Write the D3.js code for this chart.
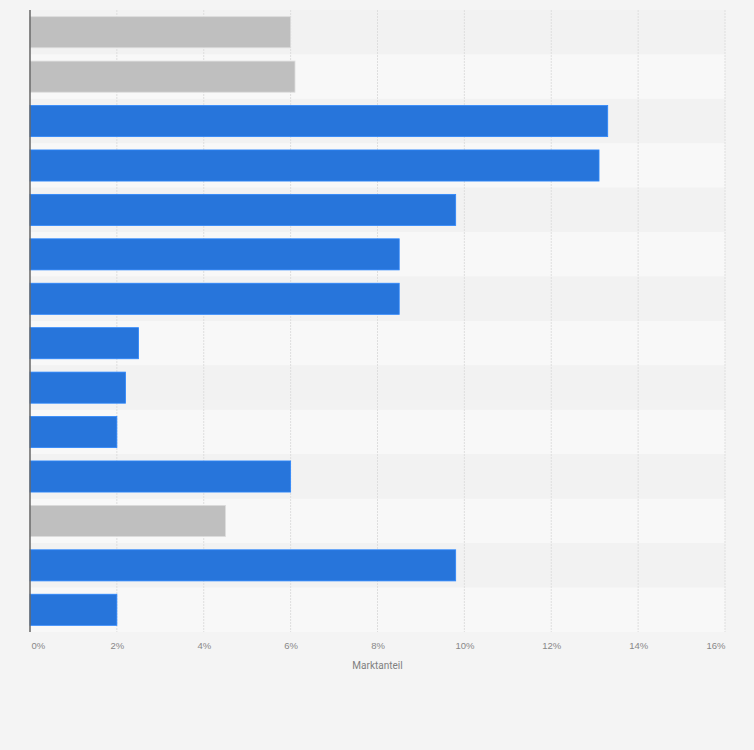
<!DOCTYPE html>
<html>
<head>
<meta charset="utf-8">
<script src="https://cdn.jsdelivr.net/npm/d3@7"></script>
<style>
  html, body { margin: 0; padding: 0; background: #f4f4f4; }
</style>
</head>
<body>
<div id="chart"></div>
<script>
// values (market share in %)
const categories = ["1", "2", "3", "4", "5", "6", "7", "8", "9", "10", "11", "12", "13", "14"];
const shares = [6.0, 6.1, 13.3, 13.1, 9.8, 8.5, 8.5, 2.5, 2.2, 2.0, 6.0, 4.5, 9.8, 2.0];
const groups = ["other", "other", "main", "main", "main", "main", "main", "main", "main", "main", "main", "other", "main", "main"];
const xTicks = [0, 2, 4, 6, 8, 10, 12, 14, 16];
const xLabel = "Marktanteil";

const data = categories.map((c, i) => ({ id: c, value: shares[i], group: groups[i] }));

// chart dimensions
const width = 754;
const height = 750;
const marginTop = 10;
const marginRight = 29;
const marginBottom = 118;
const marginLeft = 30;

const x = d3.scaleLinear([0, 16], [marginLeft, width - marginRight]);
const y = d3.scaleBand(categories, [marginTop, height - marginBottom]).paddingInner(0.3).paddingOuter(0.15);

const color = d3.scaleOrdinal()
    .domain(["main", "other"])
    .range(["#2775db", "#bfbfbf"]);

const svg = d3.create("svg")
    .attr("width", width)
    .attr("height", height)
    .attr("viewBox", [0, 0, width, height])
    .style("font-family", "Roboto, 'Noto Sans', sans-serif");

// striped row backgrounds
const step = y.step();
svg.append("g")
    .selectAll("rect")
    .data(categories)
    .join("rect")
    .attr("x", marginLeft)
    .attr("y", (d, i) => marginTop + i * step)
    .attr("width", x(16) - marginLeft)
    .attr("height", step)
    .attr("fill", (d, i) => i % 2 === 0 ? "#f2f2f2" : "#f8f8f8");

// dotted vertical grid lines
svg.append("g")
    .attr("stroke", "#dedede")
    .attr("stroke-dasharray", "2,1")
    .selectAll("line")
    .data(xTicks.slice(1))
    .join("line")
    .attr("x1", d => x(d))
    .attr("x2", d => x(d))
    .attr("y1", marginTop)
    .attr("y2", height - marginBottom);

// bars
svg.append("g")
    .selectAll("rect")
    .data(data)
    .join("rect")
    .attr("x", x(0))
    .attr("y", d => y(d.id))
    .attr("width", d => x(d.value) - x(0))
    .attr("height", y.bandwidth())
    .attr("fill", d => color(d.group))
    .attr("stroke", d => d3.color(color(d.group)).brighter(0.4))
    .attr("stroke-width", 0.8);

// left axis line
svg.append("line")
    .attr("x1", x(0))
    .attr("x2", x(0))
    .attr("y1", marginTop)
    .attr("y2", height - marginBottom)
    .attr("stroke", "#666")
    .attr("stroke-width", 1.5);

// x axis tick labels
const xAxis = d3.axisBottom(x)
    .tickValues(xTicks)
    .tickFormat(d => d + "%")
    .tickSize(0)
    .tickPadding(0);

svg.append("g")
    .attr("transform", `translate(0,${height - marginBottom + 10})`)
    .call(xAxis)
    .call(g => g.select(".domain").remove())
    .call(g => g.selectAll("text")
        .attr("fill", "#888")
        .attr("font-size", 9.5)
        .attr("text-anchor", (d, i) => i === 0 ? "start" : i === xTicks.length - 1 ? "end" : "middle")
        .attr("dx", (d, i) => i === 0 ? 1 : 0));

// axis title
svg.append("text")
    .attr("x", (x(0) + x(16)) / 2)
    .attr("y", height - marginBottom + 37)
    .attr("text-anchor", "middle")
    .attr("fill", "#808080")
    .attr("font-size", 10)
    .text(xLabel);

document.getElementById("chart").appendChild(svg.node());
</script>
</body>
</html>
